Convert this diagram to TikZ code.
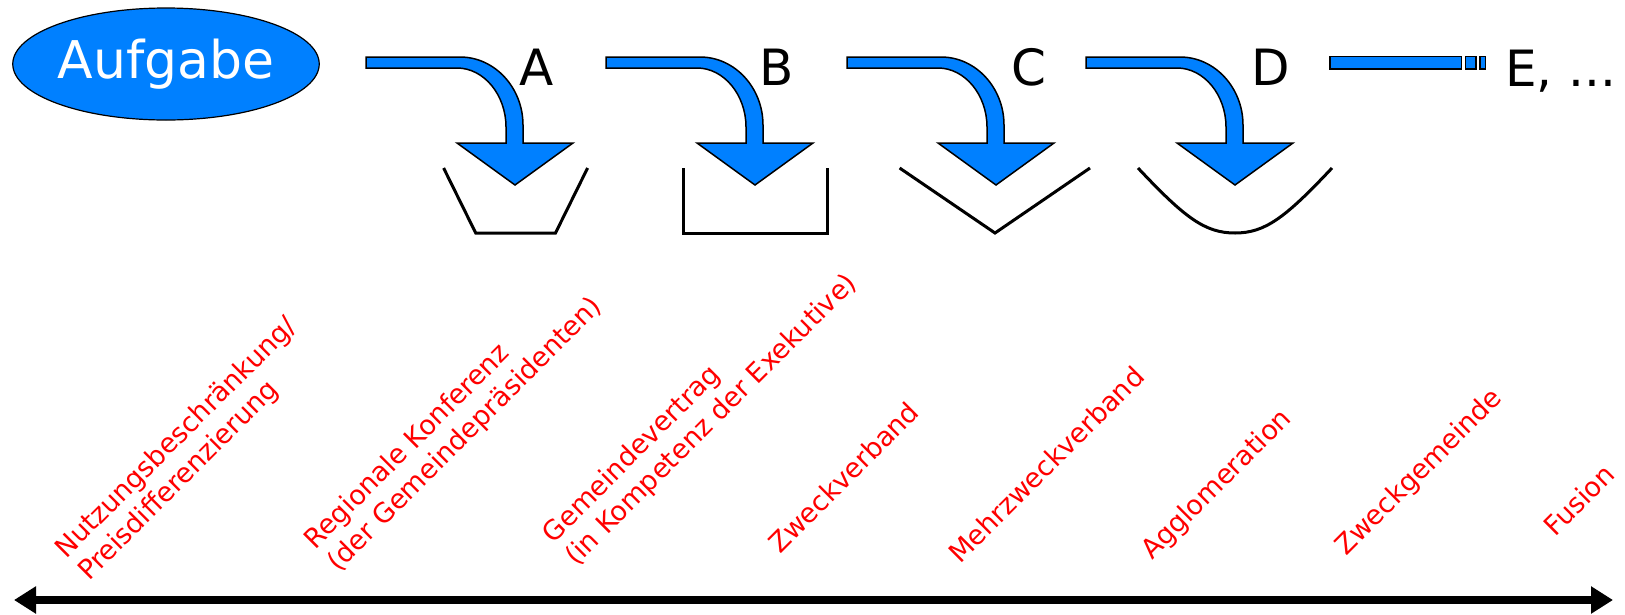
\documentclass[tikz,border=0pt]{standalone}
\usepackage{fontspec}
\setmainfont{DejaVu Sans}
\usetikzlibrary{arrows.meta,shapes}
\definecolor{taskblue}{RGB}{0,128,255}
\tikzstyle{flow} = [draw=black, line width=1.5pt, fill=taskblue]
\tikzstyle{vessel} = [draw=black, line width=3pt]
\tikzstyle{stage} = [font=\fontsize{50}{60}\selectfont, anchor=base, inner sep=0pt]
\tikzstyle{form} = [text=red, font=\fontsize{27}{32}\selectfont, rotate=45, anchor=base west, align=left, inner sep=0pt]
\tikzstyle{axisarrow} = [line width=8pt, {Triangle[length=22pt,width=26pt]}-{Triangle[length=22pt,width=26pt]}]

\begin{document}
\begin{tikzpicture}[x=1pt, y=-1pt]
\useasboundingbox (0,0) rectangle (1625,614);

% Task
\node[ellipse, draw=black, line width=1.2pt, fill=taskblue, minimum width=304pt, minimum height=112pt, inner sep=0pt, text=white, font=\fontsize{52}{62}\selectfont] (task) at (166,64) {Aufgabe};

% Curved arrows
\foreach \dx in {0,240,481,720}
  \draw[flow, shift={(\dx,0)}] (366,57) -- (460,57) .. controls (495,57) and (523,88) .. (523,125)
    -- (523,143) -- (573,143) -- (515,185) -- (457,143) -- (506,143) -- (506,127)
    .. controls (506,95) and (484,68) .. (457,68) -- (366,68) -- cycle;

% Stages
\node[stage] (stA) at (537,85) {A};
\node[stage] (stB) at (777,85) {B};
\node[stage] (stC) at (1029,85) {C};
\node[stage] (stD) at (1271,85) {D};
\node[stage, anchor=base west] (stE) at (1505,86.7) {E, ...};

% Broken bar
\draw[flow, line width=1.2pt] (1330,56.7) rectangle (1461.7,69);
\draw[flow, line width=1.2pt] (1465.7,56.7) rectangle (1476,69);
\draw[flow, line width=1.2pt] (1480,56.7) rectangle (1485.7,69);

% Vessels
\draw[vessel] (443.6,168) -- (475.7,233) -- (555.5,233) -- (587.6,168);
\draw[vessel] (683,168) -- (683,233) -- (827,233) -- (827,168);
\draw[vessel] (899.6,168) -- (995,233) -- (1090,168);
\draw[vessel] (1138,168) .. controls (1185,218) and (1205,233) .. (1235,233)
  .. controls (1265,233) and (1285,218) .. (1332,168);

% Forms of cooperation
\node[form] (f1) at (89,582) {Nutzungsbeschränkung/\\Preisdifferenzierung};
\node[form] (f2) at (338,573) {Regionale Konferenz\\(der Gemeindepräsidenten)};
\node[form] (f3) at (576,567) {Gemeindevertrag\\(in Kompetenz der Exekutive)};
\node[form] (f4) at (780,555) {Zweckverband};
\node[form] (f5) at (960,565) {Mehrzweckverband};
\node[form] (f6) at (1152,561) {Agglomeration};
\node[form] (f7) at (1346,557) {Zweckgemeinde};
\node[form] (f8) at (1555,538) {Fusion};

% Scale
\coordinate (axL) at (14,600);
\coordinate (axR) at (1613,600);
\draw[axisarrow] (axL) -- (axR);
\end{tikzpicture}
\end{document}
